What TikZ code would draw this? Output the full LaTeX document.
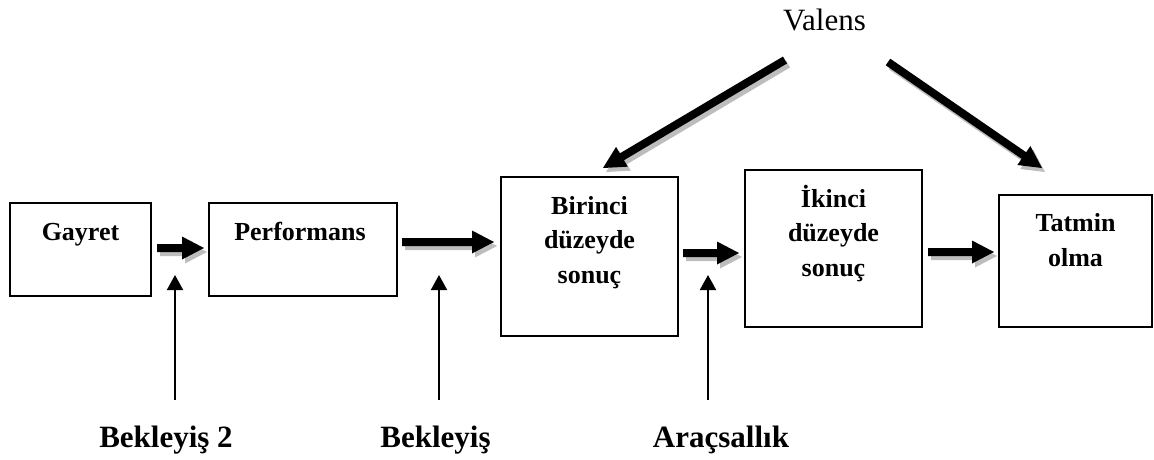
\documentclass[tikz,border=0pt]{standalone}
\usepackage{fontspec}
\setmainfont{Liberation Serif}
\usetikzlibrary{calc,arrows.meta}

\definecolor{shadowgray}{HTML}{BDBDBD}

% thick block arrow with a grey drop shadow, from coordinate #1 to coordinate #2
\newcommand{\arrowoutline}[2]{%
  ($(#1)!4pt!90:(#2)$) -- ($(#1-h)!4pt!90:(#2)$) -- ($(#1-h)!11.5pt!90:(#2)$)
  -- (#2) -- ($(#1-h)!11.5pt!-90:(#2)$) -- ($(#1-h)!4pt!-90:(#2)$)
  -- ($(#1)!4pt!-90:(#2)$) -- cycle}
\newcommand{\blockarrow}[2]{%
  \coordinate (#1-h) at ($(#2)!22pt!(#1)$);
  \begin{scope}[transform canvas={shift={(3pt,-4pt)}}]
    \fill[shadowgray] \arrowoutline{#1}{#2};
  \end{scope}
  \fill[black] \arrowoutline{#1}{#2};}

\tikzset{
  box/.style={draw=black, line width=1.8pt},
  boxtext/.style={font=\bfseries\fontsize{26}{34.5}\selectfont, align=center, anchor=base, inner sep=0pt},
  bottomlabel/.style={font=\bfseries\fontsize{31}{36}\selectfont, anchor=base, inner sep=0pt},
  toplabel/.style={font=\fontsize{31}{36}\selectfont, anchor=base, inner sep=0pt},
  pointer/.style={line width=2pt, -{Triangle[width=16pt,length=15pt]}},
}

\begin{document}
\begin{tikzpicture}[x=1pt, y=-1pt]
\useasboundingbox (0,0) rectangle (1154,459);

% boxes
\draw[box] (10,203) rectangle (151,296);
\draw[box] (209,203) rectangle (397,296);
\draw[box] (501,177) rectangle (678,336);
\draw[box] (745,170) rectangle (922,327);
\draw[box] (999,195) rectangle (1152,327);

% box texts (the base anchor sits on the last line)
\node[boxtext] (gayret) at (80.5,240) {Gayret};
\node[boxtext] (perf) at (300,240) {Performans};
\node[boxtext] (birinci) at (589.5,283) {Birinci\\düzeyde\\sonuç};
\node[boxtext] (ikinci) at (833.5,276) {İkinci\\düzeyde\\sonuç};
\node[boxtext] (tatmin) at (1075.5,266) {Tatmin\\olma};

% labels
\node[toplabel] (valens) at (824.5,30) {Valens};
\node[bottomlabel] (bek2) at (166,447) {Bekleyiş 2};
\node[bottomlabel] (bek) at (435.5,447) {Bekleyiş};
\node[bottomlabel] (arac) at (721,447) {Araçsallık};

% block arrow ends
\coordinate (a1s) at (157,248);  \coordinate (a1e) at (204,248);
\coordinate (a2s) at (402,242);  \coordinate (a2e) at (494,242);
\coordinate (a3s) at (683,253);  \coordinate (a3e) at (739,253);
\coordinate (a4s) at (928,252);  \coordinate (a4e) at (994,252);
\coordinate (d1s) at (785,60);   \coordinate (d1e) at (603,168);
\coordinate (d2s) at (888,62);   \coordinate (d2e) at (1042,168);

\blockarrow{a1s}{a1e}
\blockarrow{a2s}{a2e}
\blockarrow{a3s}{a3e}
\blockarrow{a4s}{a4e}
\blockarrow{d1s}{d1e}
\blockarrow{d2s}{d2e}

% thin upward pointers
\coordinate (p1s) at (175,400); \coordinate (p1e) at (175,275);
\coordinate (p2s) at (439,400); \coordinate (p2e) at (439,275);
\coordinate (p3s) at (708,400); \coordinate (p3e) at (708,275);
\draw[pointer] (p1s) -- (p1e);
\draw[pointer] (p2s) -- (p2e);
\draw[pointer] (p3s) -- (p3e);
\end{tikzpicture}
\end{document}
